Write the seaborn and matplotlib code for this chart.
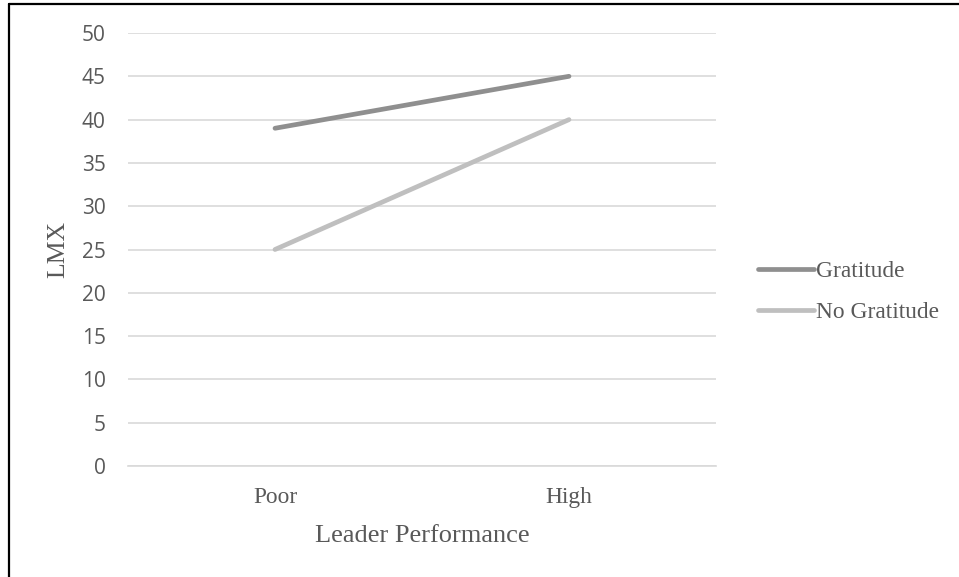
import matplotlib
matplotlib.use("Agg")
import matplotlib.pyplot as plt
import seaborn as sns
import pandas as pd
from matplotlib.lines import Line2D

# datos
categories = ["Poor", "High"]
gratitude = [39, 45]
no_gratitude = [25, 40]
series_names = ["Gratitude", "No Gratitude"]
y_ticks = [0, 5, 10, 15, 20, 25, 30, 35, 40, 45, 50]

df = pd.DataFrame({
    "performance": categories * 2,
    "LMX": gratitude + no_gratitude,
    "group": [series_names[0]] * 2 + [series_names[1]] * 2,
})

sns.set_style("white")
plt.rcParams["font.family"] = ["Liberation Serif", "DejaVu Serif"]

text_color = "#595959"
palette = {"Gratitude": "#8f8f8f", "No Gratitude": "#bfbfbf"}
lw = 3.4

fig = plt.figure(figsize=(9.59, 5.77), dpi=100)
ax = fig.add_axes([128 / 959, 1 - 466 / 577, 588 / 959, 433 / 577])

sns.lineplot(data=df, x="performance", y="LMX", hue="group", palette=palette,
             linewidth=lw, sort=False, ax=ax, legend=False,
             solid_capstyle="round")

ax.set_xlim(-0.5, 1.5)
ax.set_ylim(0, 50)
ax.set_yticks(y_ticks)
ax.set_yticklabels([str(v) for v in y_ticks], fontfamily="Open Sans",
                   fontsize=15, color=text_color)
ax.set_xticks(range(len(categories)))
ax.set_xticklabels(categories, fontsize=16.8, color=text_color)
ax.tick_params(axis="both", length=0)
ax.tick_params(axis="y", pad=16)
ax.tick_params(axis="x", pad=15)

ax.grid(axis="y", color="#d9d9d9", linewidth=1.2)
ax.set_axisbelow(True)
for side in ["top", "right", "left"]:
    ax.spines[side].set_visible(False)
ax.spines["bottom"].set_color("#d9d9d9")
ax.spines["bottom"].set_linewidth(1.2)

ax.set_xlabel("Leader Performance", fontsize=19, color=text_color, labelpad=12)
ax.set_ylabel("LMX", fontsize=18.5, color=text_color)
ax.yaxis.set_label_coords(-59 / 588, 0.5)

handles = [Line2D([0], [0], color=palette[n], linewidth=lw, solid_capstyle="round")
           for n in series_names]
leg = fig.legend(handles, series_names, loc="center left",
                 bbox_to_anchor=(758 / 959, 1 - 292 / 577), frameon=False,
                 fontsize=16.8, handlelength=2.4, handletextpad=0.1,
                 labelspacing=0.85, borderaxespad=0, borderpad=0)
for t in leg.get_texts():
    t.set_color(text_color)

# marco del grafico (solo izquierda y arriba visibles)
fig.add_artist(Line2D([9 / 959, 9 / 959], [0, 1 - 3.5 / 577], color="black",
                      linewidth=1.6, transform=fig.transFigure))
fig.add_artist(Line2D([9 / 959, 1], [1 - 3.5 / 577, 1 - 3.5 / 577], color="black",
                      linewidth=1.6, transform=fig.transFigure))

fig.savefig("out.png", dpi=100)
